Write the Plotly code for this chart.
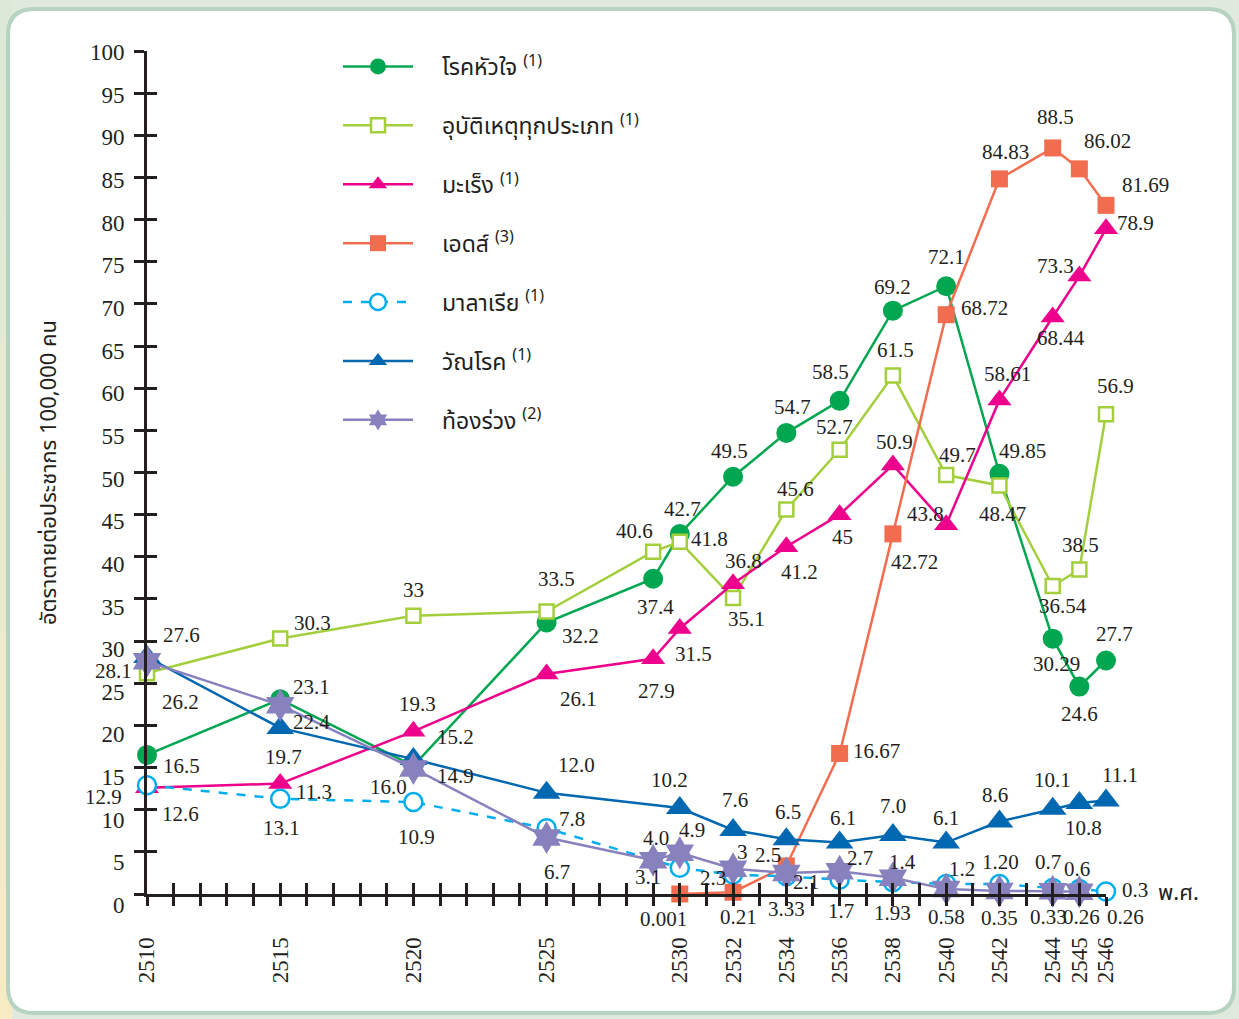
import plotly.graph_objects as go

# ---------------- data ----------------
all_years = list(range(2510, 2547))
x_label_years = [2510, 2515, 2520, 2525, 2530, 2532, 2534, 2536, 2538, 2540, 2542, 2544, 2545, 2546]
y_ticks = list(range(0, 101, 5))

heart_years = [2510, 2515, 2520, 2525, 2529, 2530, 2532, 2534, 2536, 2538, 2540, 2542, 2544, 2545, 2546]
heart_vals = [16.5, 23.1, 15.2, 32.2, 37.4, 42.7, 49.5, 54.7, 58.5, 69.2, 72.1, 49.85, 30.29, 24.6, 27.7]
heart_text = ["16.5", "23.1", "15.2", "32.2", "37.4", "42.7", "49.5", "54.7", "58.5", "69.2", "72.1", "49.85", "30.29", "24.6", "27.7"]

acc_years = [2510, 2515, 2520, 2525, 2529, 2530, 2532, 2534, 2536, 2538, 2540, 2542, 2544, 2545, 2546]
acc_vals = [26.2, 30.3, 33, 33.5, 40.6, 41.8, 35.1, 45.6, 52.7, 61.5, 49.7, 48.47, 36.54, 38.5, 56.9]
acc_text = ["26.2", "30.3", "33", "33.5", "40.6", "41.8", "35.1", "45.6", "52.7", "61.5", "49.7", "48.47", "36.54", "38.5", "56.9"]

cancer_years = [2510, 2515, 2520, 2525, 2529, 2530, 2532, 2534, 2536, 2538, 2540, 2542, 2544, 2545, 2546]
cancer_vals = [12.6, 13.1, 19.3, 26.1, 27.9, 31.5, 36.8, 41.2, 45, 50.9, 43.8, 58.61, 68.44, 73.3, 78.9]
cancer_text = ["12.6", "13.1", "19.3", "26.1", "27.9", "31.5", "36.8", "41.2", "45", "50.9", "43.8", "58.61", "68.44", "73.3", "78.9"]

aids_years = [2530, 2532, 2534, 2536, 2538, 2540, 2542, 2544, 2545, 2546]
aids_vals = [0.001, 0.21, 3.33, 16.67, 42.72, 68.72, 84.83, 88.5, 86.02, 81.69]
aids_text = ["0.001", "0.21", "3.33", "16.67", "42.72", "68.72", "84.83", "88.5", "86.02", "81.69"]

mal_years = [2510, 2515, 2520, 2525, 2530, 2532, 2534, 2536, 2538, 2540, 2542, 2544, 2545, 2546]
mal_vals = [12.9, 11.3, 10.9, 7.8, 3.1, 2.3, 2.1, 1.7, 1.4, 1.2, 1.20, 0.7, 0.6, 0.3]
mal_text = ["12.9", "11.3", "10.9", "7.8", "3.1", "2.3", "2.1", "1.7", "1.4", "1.2", "1.20", "0.7", "0.6", "0.3"]

tb_years = [2510, 2515, 2520, 2525, 2530, 2532, 2534, 2536, 2538, 2540, 2542, 2544, 2545, 2546]
tb_vals = [28.1, 19.7, 16.0, 12.0, 10.2, 7.6, 6.5, 6.1, 7.0, 6.1, 8.6, 10.1, 10.8, 11.1]
tb_text = ["28.1", "19.7", "16.0", "12.0", "10.2", "7.6", "6.5", "6.1", "7.0", "6.1", "8.6", "10.1", "10.8", "11.1"]

dia_years = [2510, 2515, 2520, 2525, 2529, 2530, 2532, 2534, 2536, 2538, 2540, 2542, 2544, 2545]
dia_vals = [27.6, 22.4, 14.9, 6.7, 4.0, 4.9, 3, 2.5, 2.7, 1.93, 0.58, 0.35, 0.33, 0.26]
dia_text = ["27.6", "22.4", "14.9", "6.7", "4.0", "4.9", "3", "2.5", "2.7", "1.93", "0.58", "0.35", "0.33", "0.26"]

extra_label_year = [2546]
extra_label_val = [0.26]
extra_label_text = ["0.26"]

# ---------------- label offsets (pixels, style only) ----------------
heart_off = [(34, -11), (31, 12), (42, 29), (34, -13), (2, -28), (3, 25), (-4, 26), (6, 26), (-9, 29),
             (0, 24), (0, 29), (23, 23), (4, -25), (0, -27), (8, 26)]
acc_off = [(33, -29), (32, 16), (0, 26), (10, 33), (-19, 21), (30, 3), (13, -21), (9, 21), (-5, 23),
           (3, 26), (11, 20), (3, -29), (10, -20), (1, 24), (9, 28)]
cancer_off = [(33, -26), (1, -44), (4, 27), (32, -25), (3, -32), (14, -26), (10, 23), (13, -25), (3, -22),
              (2, 23), (-21, 11), (8, 26), (8, -21), (-24, 10), (29, 6)]
aids_off = [(-16, -25), (5, -25), (0, -43), (37, 2), (22, -28), (38, 7), (6, 27), (3, 31), (28, 28), (39, 20)]
mal_off = [(-44, -12), (34, 7), (3, -35), (25, 9), (-32, -9), (-20, -3), (20, -6), (1, -31), (10, 20),
           (16, 15), (1, 22), (-5, 26), (-2, 20), (29, 1)]
tb_off = [(-34, -14), (3, -29), (-25, -28), (30, 28), (-10, 28), (2, 30), (2, 27), (3, 25), (0, 29),
          (0, 25), (-4, 27), (0, 29), (4, -25), (14, 25)]
dia_off = [(34, 26), (31, -17), (42, -8), (10, -34), (3, 22), (12, 23), (9, 17), (-18, 18), (20, 13),
           (0, -35), (0, -28), (0, -27), (-4, -26), (2, -25)]
extra_off = [(19, -25)]

INK = "#231f20"
NUM_FONT = "Liberation Serif, DejaVu Serif, serif"
THAI_FONT = "Noto Sans Thai, Noto Serif Thai, Garuda, Loma, Noto Sans, sans-serif"
NB = "\u00a0"
LABEL_SIZE = 21

series = [
    dict(name=NB * 4 + "โรคหัวใจ <sup>(1)</sup>", x=heart_years, y=heart_vals, t=heart_text, off=heart_off,
         color="#00a650", symbol="circle", size=20, fill="#00a650", dash="solid", mlw=0),
    dict(name=NB * 4 + "อุบัติเหตุทุกประเภท <sup>(1)</sup>", x=acc_years, y=acc_vals, t=acc_text, off=acc_off,
         color="#a3cf3d", symbol="square", size=14, fill="white", dash="solid", mlw=2.5),
    dict(name=NB * 4 + "มะเร็ง <sup>(1)</sup>", x=cancer_years, y=cancer_vals, t=cancer_text, off=cancer_off,
         color="#ec008c", symbol="triangle-up", size=21, fill="#ec008c", dash="solid", mlw=0),
    dict(name=NB * 4 + "เอดส์ <sup>(3)</sup>", x=aids_years, y=aids_vals, t=aids_text, off=aids_off,
         color="#f26d50", symbol="square", size=17, fill="#f26d50", dash="solid", mlw=0),
    dict(name=NB * 4 + "มาลาเรีย <sup>(1)</sup>", x=mal_years, y=mal_vals, t=mal_text, off=mal_off,
         color="#00aeef", symbol="circle", size=18, fill="white", dash="dash", mlw=2.5),
    dict(name=NB * 4 + "วัณโรค <sup>(1)</sup>", x=tb_years, y=tb_vals, t=tb_text, off=tb_off,
         color="#0067b1", symbol="triangle-up", size=24, fill="#0067b1", dash="solid", mlw=0),
    dict(name=NB * 4 + "ท้องร่วง <sup>(2)</sup>", x=dia_years, y=dia_vals, t=dia_text, off=dia_off,
         color="#8781bd", symbol="hexagram", size=25, fill="#8781bd", dash="solid", mlw=0),
]

fig = go.Figure()
annotations = []
for i, s in enumerate(series):
    fig.add_trace(go.Scatter(
        x=s["x"], y=s["y"], name=s["name"], mode="lines+markers",
        legendgroup=f"g{i}",
        line=dict(color=s["color"], width=2.5, dash=s["dash"]),
        marker=dict(symbol=s["symbol"], size=s["size"], color=s["fill"],
                    line=dict(color=s["color"], width=s["mlw"])),
        cliponaxis=False,
    ))
    for xv, yv, txt, (dx, dy) in zip(s["x"], s["y"], s["t"], s["off"]):
        annotations.append(dict(x=xv, y=yv, xref="x", yref="y", text=txt, showarrow=False,
                                xshift=dx, yshift=dy, font=dict(family=NUM_FONT, size=LABEL_SIZE, color=INK)))

for xv, yv, txt, (dx, dy) in zip(extra_label_year, extra_label_val, extra_label_text, extra_off):
    annotations.append(dict(x=xv, y=yv, xref="x", yref="y", text=txt, showarrow=False,
                            xshift=dx, yshift=dy, font=dict(family=NUM_FONT, size=LABEL_SIZE, color=INK)))

# dummy traces for the overlay axes (crossing tick marks) and the tick-label axis
fig.add_trace(go.Scatter(x=[None], y=[None], xaxis="x2", yaxis="y2", showlegend=False, hoverinfo="skip"))
fig.add_trace(go.Scatter(x=[None], y=[None], xaxis="x", yaxis="y3", showlegend=False, hoverinfo="skip"))

# ---------------- geometry (pixels -> paper) ----------------
W, H = 1239, 1019
ML, MR, MT, MB = 147, 133, 51, 105
PW, PH = W - ML - MR, H - MT - MB
AXIS_PY = 894          # pixel row of the x axis line
y_dom0 = (H - MB - AXIS_PY) / PH

# the printed y tick labels are spread a little wider than the tick marks
LAB_TOP_PY, LAB_ZERO_PY = 52, 905
lab_scale = (LAB_ZERO_PY - LAB_TOP_PY) / 100.0
lab_range = [(LAB_ZERO_PY - (H - MB)) / lab_scale, (LAB_ZERO_PY - MT) / lab_scale]


def px2x(px):
    return (px - ML) / PW


def py2y(py):
    return (H - MB - py) / PH


def P(px, py):
    return f"{px2x(px):.5f},{py2y(py):.5f}"


annotations.append(dict(x=px2x(1178), y=py2y(893), xref="paper", yref="paper", text="พ.ศ.", showarrow=False,
                        xanchor="center", yanchor="middle", font=dict(family=THAI_FONT, size=22, color=INK)))

L, R, T, B, rad = 8, 1234, 9, 1013, 26
frame = (f"M{P(L + rad, T)} L{P(R - rad, T)} Q{P(R, T)} {P(R, T + rad)} L{P(R, B - rad)} "
         f"Q{P(R, B)} {P(R - rad, B)} L{P(L + rad, B)} Q{P(L, B)} {P(L, B - rad)} "
         f"L{P(L, T + rad)} Q{P(L, T)} {P(L + rad, T)} Z")

shapes = []
c_top, c_bot = (220, 233, 216), (247, 235, 196)
n_band = 24
for k in range(n_band):
    f = k / (n_band - 1)
    col = tuple(round(c_top[j] + (c_bot[j] - c_top[j]) * f) for j in range(3))
    y0 = k * H / n_band
    y1 = (k + 1) * H / n_band + 1
    shapes.append(dict(type="rect", xref="paper", yref="paper", layer="below",
                       x0=px2x(-2), x1=px2x(12), y0=py2y(y1), y1=py2y(y0),
                       fillcolor="rgb(%d,%d,%d)" % col, line=dict(width=0)))
shapes.append(dict(type="path", path=frame, xref="paper", yref="paper", layer="below",
                   fillcolor="white", line=dict(color="#b6d3c2", width=4)))

ticktext = [str(y) if y in x_label_years else "" for y in all_years]

fig.update_layout(
    width=W, height=H,
    margin=dict(l=ML, r=MR, t=MT, b=MB),
    paper_bgcolor="#dfeadc",
    plot_bgcolor="rgba(0,0,0,0)",
    shapes=shapes,
    annotations=annotations,
    showlegend=True,
    legend=dict(x=px2x(338), y=py2y(45), xanchor="left", yanchor="top", bgcolor="rgba(0,0,0,0)",
                font=dict(family=THAI_FONT, size=23, color=INK), tracegroupgap=26,
                itemwidth=70, itemsizing="trace"),
    xaxis=dict(range=[2510, 2546], tickvals=all_years, ticktext=ticktext, tickangle=-90,
               ticks="outside", ticklen=9, tickwidth=2.5, tickcolor=INK,
               showline=True, linewidth=3, linecolor=INK, showgrid=False, zeroline=False,
               ticklabelstandoff=22, tickfont=dict(family=NUM_FONT, size=23, color=INK),
               anchor="y"),
    yaxis=dict(range=[0, 100], domain=[y_dom0, 1], tickvals=y_ticks, ticks="outside", ticklen=10,
               tickwidth=2.5, tickcolor=INK, showticklabels=False,
               showline=True, linewidth=3, linecolor=INK, showgrid=False, zeroline=False,
               title=dict(text="อัตราตายต่อประชากร 100,000 คน", standoff=72,
                          font=dict(family=THAI_FONT, size=22, color=INK))),
    yaxis3=dict(range=lab_range, domain=[0, 1], tickvals=y_ticks, ticks="outside", ticklen=10,
                tickcolor="rgba(0,0,0,0)", showline=False, showgrid=False, zeroline=False,
                anchor="free", position=0, side="left", ticklabelstandoff=8,
                tickfont=dict(family=NUM_FONT, size=23, color=INK)),
    xaxis2=dict(range=[2510, 2546], tickvals=all_years, ticks="inside", ticklen=11, tickwidth=2.5,
                tickcolor=INK, showticklabels=False, showline=False, showgrid=False, zeroline=False,
                overlaying="x", anchor="y2", side="bottom"),
    yaxis2=dict(range=[0, 100], tickvals=y_ticks, ticks="inside", ticklen=10, tickwidth=2.5,
                tickcolor=INK, showticklabels=False, showline=False, showgrid=False, zeroline=False,
                overlaying="y", anchor="x2", side="left"),
)

fig.write_html("out.html", config={"displayModeBar": False},
               post_script="document.body.style.margin='0';document.body.style.overflow='hidden';")
